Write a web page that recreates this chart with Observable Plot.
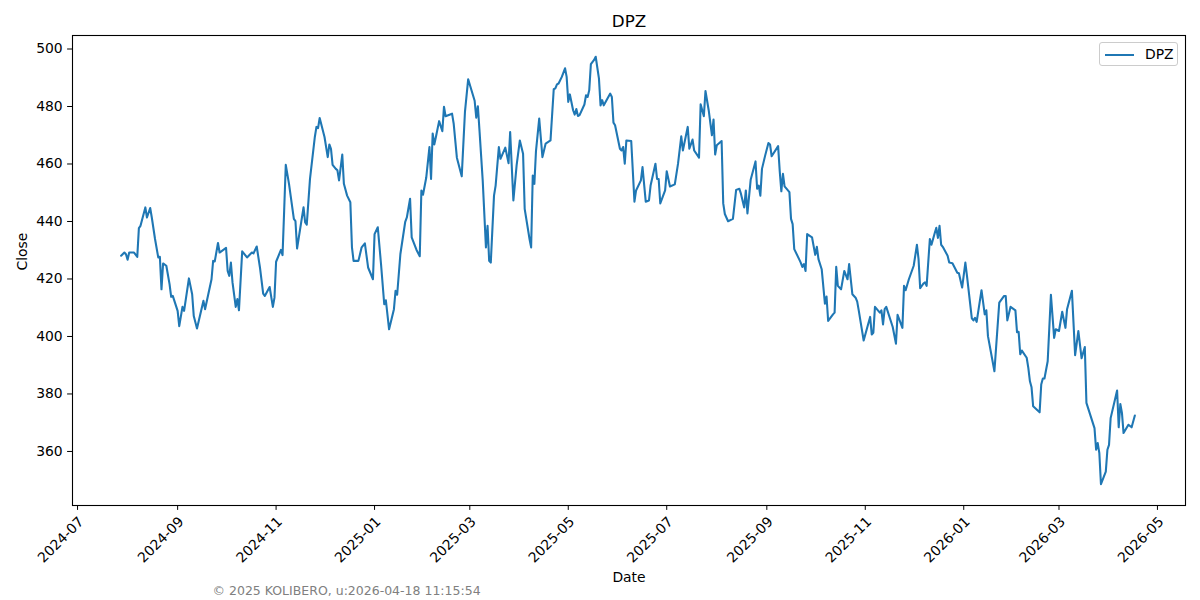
<!DOCTYPE html>
<html>
<head>
<meta charset="utf-8">
<script src="https://cdn.jsdelivr.net/npm/d3@7"></script>
<script src="https://cdn.jsdelivr.net/npm/@observablehq/plot@0.6"></script>
<style>
  html, body { margin: 0; padding: 0; background: #fff; }
  #wrap { position: relative; width: 1200px; height: 600px; font-family: "DejaVu Sans", sans-serif; }
  #legend { position: absolute; left: 1099px; top: 42px; width: 79px; height: 24px; border: 1px solid #cccccc; border-radius: 3px; background: rgba(255,255,255,0.8); box-sizing: border-box; }
  #legend .sw { position: absolute; left: 5px; top: 11px; width: 29px; height: 2px; background: #1f77b4; }
  #legend .lb { position: absolute; left: 45px; top: 3px; font-size: 13.9px; line-height: 16px; color: #000; }
</style>
</head>
<body>
<div id="wrap">
  <div id="chart"></div>
  <div id="legend"><div class="sw"></div><div class="lb">DPZ</div></div>
</div>
<script>
const ticker = "DPZ";
const xLabel = "Date";
const yLabel = "Close";
const footer = "© 2025 KOLIBERO, u:2026-04-18 11:15:54";
const yTicks = [360, 380, 400, 420, 440, 460, 480, 500];
const xTicks = ["2024-07-01","2024-09-01","2024-11-01","2025-01-01","2025-03-01","2025-05-01","2025-07-01","2025-09-01","2025-11-01","2026-01-01","2026-03-01","2026-05-01"];

const dates = [
"2024-07-28","2024-07-30","2024-07-31","2024-08-01","2024-08-02","2024-08-05","2024-08-07","2024-08-08","2024-08-09","2024-08-12",
"2024-08-13","2024-08-15","2024-08-16","2024-08-18","2024-08-20","2024-08-21","2024-08-22","2024-08-23","2024-08-25","2024-08-27",
"2024-08-28","2024-08-29","2024-09-01","2024-09-02","2024-09-04","2024-09-05","2024-09-08","2024-09-10","2024-09-11","2024-09-13",
"2024-09-17","2024-09-18","2024-09-22","2024-09-23","2024-09-24","2024-09-26","2024-09-27","2024-10-01","2024-10-02","2024-10-03",
"2024-10-04","2024-10-05","2024-10-07","2024-10-08","2024-10-09","2024-10-11","2024-10-14","2024-10-17","2024-10-18","2024-10-20",
"2024-10-22","2024-10-24","2024-10-25","2024-10-28","2024-10-30","2024-10-31","2024-11-01","2024-11-04","2024-11-05","2024-11-06",
"2024-11-07","2024-11-09","2024-11-12","2024-11-13","2024-11-14","2024-11-18","2024-11-19","2024-11-20","2024-11-22","2024-11-25",
"2024-11-26","2024-11-27","2024-11-28","2024-12-01","2024-12-03","2024-12-04","2024-12-05","2024-12-06","2024-12-08","2024-12-09",
"2024-12-10","2024-12-12","2024-12-13","2024-12-15","2024-12-17","2024-12-18","2024-12-19","2024-12-22","2024-12-24","2024-12-26",
"2024-12-28","2024-12-31","2025-01-01","2025-01-03","2025-01-05","2025-01-07","2025-01-08","2025-01-10","2025-01-13","2025-01-14",
"2025-01-15","2025-01-17","2025-01-20","2025-01-21","2025-01-23","2025-01-24","2025-01-27","2025-01-29","2025-01-30","2025-01-31",
"2025-02-02","2025-02-04","2025-02-05","2025-02-06","2025-02-07","2025-02-08","2025-02-10","2025-02-12","2025-02-13","2025-02-14",
"2025-02-18","2025-02-19","2025-02-21","2025-02-24","2025-02-26","2025-02-28","2025-03-04","2025-03-05","2025-03-06","2025-03-07",
"2025-03-09","2025-03-11","2025-03-12","2025-03-13","2025-03-14","2025-03-16","2025-03-17","2025-03-19","2025-03-20","2025-03-23",
"2025-03-25","2025-03-26","2025-03-28","2025-03-30","2025-04-01","2025-04-03","2025-04-04","2025-04-07","2025-04-08","2025-04-09",
"2025-04-10","2025-04-11","2025-04-13","2025-04-15","2025-04-17","2025-04-20","2025-04-22","2025-04-23","2025-04-24","2025-04-25",
"2025-04-27","2025-04-29","2025-04-30","2025-05-01","2025-05-02","2025-05-04","2025-05-05","2025-05-06","2025-05-07","2025-05-08",
"2025-05-11","2025-05-12","2025-05-13","2025-05-14","2025-05-15","2025-05-17","2025-05-18","2025-05-20","2025-05-21","2025-05-22",
"2025-05-23","2025-05-27","2025-05-28","2025-05-29","2025-05-30","2025-06-02","2025-06-03","2025-06-04","2025-06-05","2025-06-06",
"2025-06-09","2025-06-11","2025-06-12","2025-06-15","2025-06-16","2025-06-18","2025-06-20","2025-06-21","2025-06-24","2025-06-25",
"2025-06-26","2025-06-27","2025-06-30","2025-07-01","2025-07-03","2025-07-06","2025-07-08","2025-07-10","2025-07-11","2025-07-14",
"2025-07-15","2025-07-17","2025-07-18","2025-07-21","2025-07-22","2025-07-24","2025-07-25","2025-07-27","2025-07-29","2025-07-30",
"2025-07-31","2025-08-01","2025-08-04","2025-08-05","2025-08-06","2025-08-08","2025-08-11","2025-08-13","2025-08-15","2025-08-16",
"2025-08-18","2025-08-19","2025-08-20","2025-08-22","2025-08-25","2025-08-26","2025-08-27","2025-08-28","2025-08-29","2025-08-31",
"2025-09-02","2025-09-03","2025-09-04","2025-09-08","2025-09-09","2025-09-10","2025-09-11","2025-09-12","2025-09-15","2025-09-16",
"2025-09-17","2025-09-18","2025-09-21","2025-09-22","2025-09-23","2025-09-24","2025-09-25","2025-09-26","2025-09-29","2025-10-01",
"2025-10-02","2025-10-03","2025-10-05","2025-10-07","2025-10-08","2025-10-09","2025-10-12","2025-10-13","2025-10-14","2025-10-15",
"2025-10-17","2025-10-19","2025-10-21","2025-10-22","2025-10-24","2025-10-26","2025-10-27","2025-10-28","2025-10-29","2025-10-31",
"2025-11-04","2025-11-05","2025-11-06","2025-11-07","2025-11-10","2025-11-11","2025-11-12","2025-11-13","2025-11-14","2025-11-18",
"2025-11-20","2025-11-21","2025-11-24","2025-11-25","2025-11-26","2025-11-28","2025-12-01","2025-12-03","2025-12-04","2025-12-05",
"2025-12-07","2025-12-08","2025-12-09","2025-12-11","2025-12-12","2025-12-14","2025-12-15","2025-12-16","2025-12-17","2025-12-18",
"2025-12-19","2025-12-22","2025-12-23","2025-12-25","2025-12-28","2025-12-29","2025-12-31","2026-01-02","2026-01-03","2026-01-06",
"2026-01-07","2026-01-08","2026-01-09","2026-01-12","2026-01-14","2026-01-15","2026-01-16","2026-01-20","2026-01-23","2026-01-26",
"2026-01-27","2026-01-28","2026-01-30","2026-02-02","2026-02-03","2026-02-04","2026-02-05","2026-02-06","2026-02-09","2026-02-10",
"2026-02-11","2026-02-12","2026-02-13","2026-02-17","2026-02-18","2026-02-19","2026-02-20","2026-02-22","2026-02-24","2026-02-26",
"2026-02-27","2026-03-01","2026-03-03","2026-03-05","2026-03-06","2026-03-09","2026-03-11","2026-03-13","2026-03-15","2026-03-17",
"2026-03-18","2026-03-23","2026-03-24","2026-03-25","2026-03-26","2026-03-27","2026-03-30","2026-03-31","2026-04-01","2026-04-02",
"2026-04-06","2026-04-07","2026-04-08","2026-04-09","2026-04-10","2026-04-13","2026-04-15","2026-04-17"
];

const closes = [
428.1,429.2,428.6,426.7,429.2,429.2,427.7,437.7,438.5,444.9,
441.4,444.7,441.4,433.9,427.5,427.7,416.4,425.4,424.6,418.2,
413.8,414.1,408.9,403.6,410.3,408.9,420.2,414.7,407.1,402.8,
412.4,409.5,419.9,426.3,426.1,432.5,429.2,430.8,422.8,421.1,
425.7,418.8,410.3,413.0,409.1,429.6,427.5,429.2,428.9,431.3,
424.0,414.9,414.1,417.2,410.3,413.5,426.0,430.1,428.3,443.8,
459.7,453.1,440.9,440.1,430.6,444.9,439.7,438.9,454.8,469.4,
472.9,472.5,476.0,469.4,462.4,466.8,465.3,459.7,458.3,457.8,
454.3,463.3,453.1,449.0,446.7,431.0,426.3,426.3,431.0,432.4,
424.0,419.9,435.6,438.0,425.2,411.2,412.6,402.5,409.5,415.9,
414.5,428.7,439.9,441.4,447.9,434.5,430.1,427.9,450.8,449.3,
455.2,465.9,454.8,470.6,466.8,469.4,474.9,471.4,479.9,476.6,
477.5,474.1,462.2,455.7,478.1,489.5,482.0,476.1,480.1,471.7,
454.3,431.0,438.5,426.3,425.7,449.0,452.5,465.9,461.8,465.7,
460.3,471.1,447.3,459.5,468.2,463.6,444.4,433.9,431.0,456.0,
453.1,464.5,475.8,462.4,467.1,468.2,486.0,486.3,487.7,488.0,
490.3,493.3,490.3,481.6,484.2,478.7,477.2,479.1,476.7,477.0,
480.7,483.9,483.3,485.7,494.7,496.2,497.3,489.8,480.4,482.2,
480.4,484.5,483.3,474.4,473.5,465.3,464.7,465.9,460.1,468.2,
468.0,446.9,450.8,454.3,458.9,446.9,447.3,452.5,460.1,454.8,
454.8,446.3,450.8,457.5,452.2,452.9,460.1,469.6,464.7,472.9,
465.3,468.5,464.7,462.2,480.8,476.6,485.4,478.7,470.0,475.5,
463.3,466.5,468.0,446.3,442.6,440.1,440.9,451.0,451.4,449.6,
444.9,450.8,442.8,454.5,460.9,451.4,452.5,449.0,458.3,463.0,
467.3,466.8,462.7,466.2,457.5,450.5,456.6,452.2,450.2,440.9,
439.1,430.4,426.9,425.7,424.2,425.2,422.8,435.6,434.5,428.4,
431.2,426.9,423.4,411.4,413.9,405.4,407.7,408.3,424.2,417.6,
416.4,422.8,419.9,425.2,414.7,413.5,412.1,408.9,405.4,398.6,
406.8,400.7,401.3,410.3,408.3,409.1,404.2,409.5,410.3,403.3,
397.5,407.5,403.0,417.6,416.1,419.9,424.6,431.9,426.9,416.8,
418.4,418.8,417.6,433.9,431.9,435.9,437.8,434.3,438.5,431.9,
431.2,428.1,425.7,425.5,422.2,422.0,417.0,425.7,421.1,406.3,
405.6,406.5,405.1,416.1,407.7,409.1,400.1,387.9,411.8,414.1,
414.1,405.6,410.3,409.1,401.5,401.6,393.8,395.1,392.6,389.1,
384.4,382.3,375.7,373.6,383.3,385.4,385.4,391.4,414.5,399.5,
402.5,401.9,408.6,403.0,409.5,415.9,393.5,401.9,392.4,396.3,
376.9,368.1,360.6,362.9,359.4,348.6,353.0,360.6,362.3,371.6,
381.2,368.4,376.5,373.4,366.4,369.3,368.4,372.5
];

const data = dates.map((d, i) => ({date: new Date(d + "T00:00:00Z"), close: closes[i]}));
const xTickDates = xTicks.map(d => new Date(d + "T00:00:00Z"));
const fmt = d3.utcFormat("%Y-%m");

const chart = Plot.plot({
  width: 1200,
  height: 600,
  marginLeft: 72,
  marginRight: 15,
  marginTop: 35,
  marginBottom: 95,
  style: {fontFamily: "DejaVu Sans, sans-serif", fontSize: "13.9px", color: "#000", background: "#fff", overflow: "visible"},
  x: {type: "utc", domain: [new Date(Date.UTC(2024, 5, 27, 21)), new Date(Date.UTC(2026, 4, 18, 9))], label: null},
  y: {domain: [341.2, 504.7], label: null},
  marks: [
    Plot.axisY({ticks: yTicks, tickSize: 4.9, tickPadding: 4.9, label: null, fontSize: 13.9}),
    Plot.axisX({ticks: xTickDates, tickSize: 4.9, tickFormat: fmt, tickRotate: -45, textAnchor: "end", lineAnchor: "top", tickPadding: 5, label: null, fontSize: 13.9}),
    Plot.line(data, {x: "date", y: "close", stroke: "#1f77b4", strokeWidth: 2.08}),
    Plot.frame({stroke: "#000", strokeWidth: 1.1}),
    Plot.text([ticker], {text: d => d, frameAnchor: "top", dy: -13.5, fontSize: 16.7, lineAnchor: "middle"}),
    Plot.text([xLabel], {text: d => d, frameAnchor: "bottom", dy: 72.5, fontSize: 13.9, lineAnchor: "middle"}),
    Plot.text([yLabel], {text: d => d, frameAnchor: "left", dx: -50, rotate: -90, fontSize: 13.9, lineAnchor: "middle"}),
    Plot.text([footer], {text: d => d, frameAnchor: "bottom-left", dx: 140, dy: 85, textAnchor: "start", lineAnchor: "middle", fontSize: 12.5, fill: "#808080"})
  ]
});
document.getElementById("chart").appendChild(chart);
</script>
</body>
</html>
